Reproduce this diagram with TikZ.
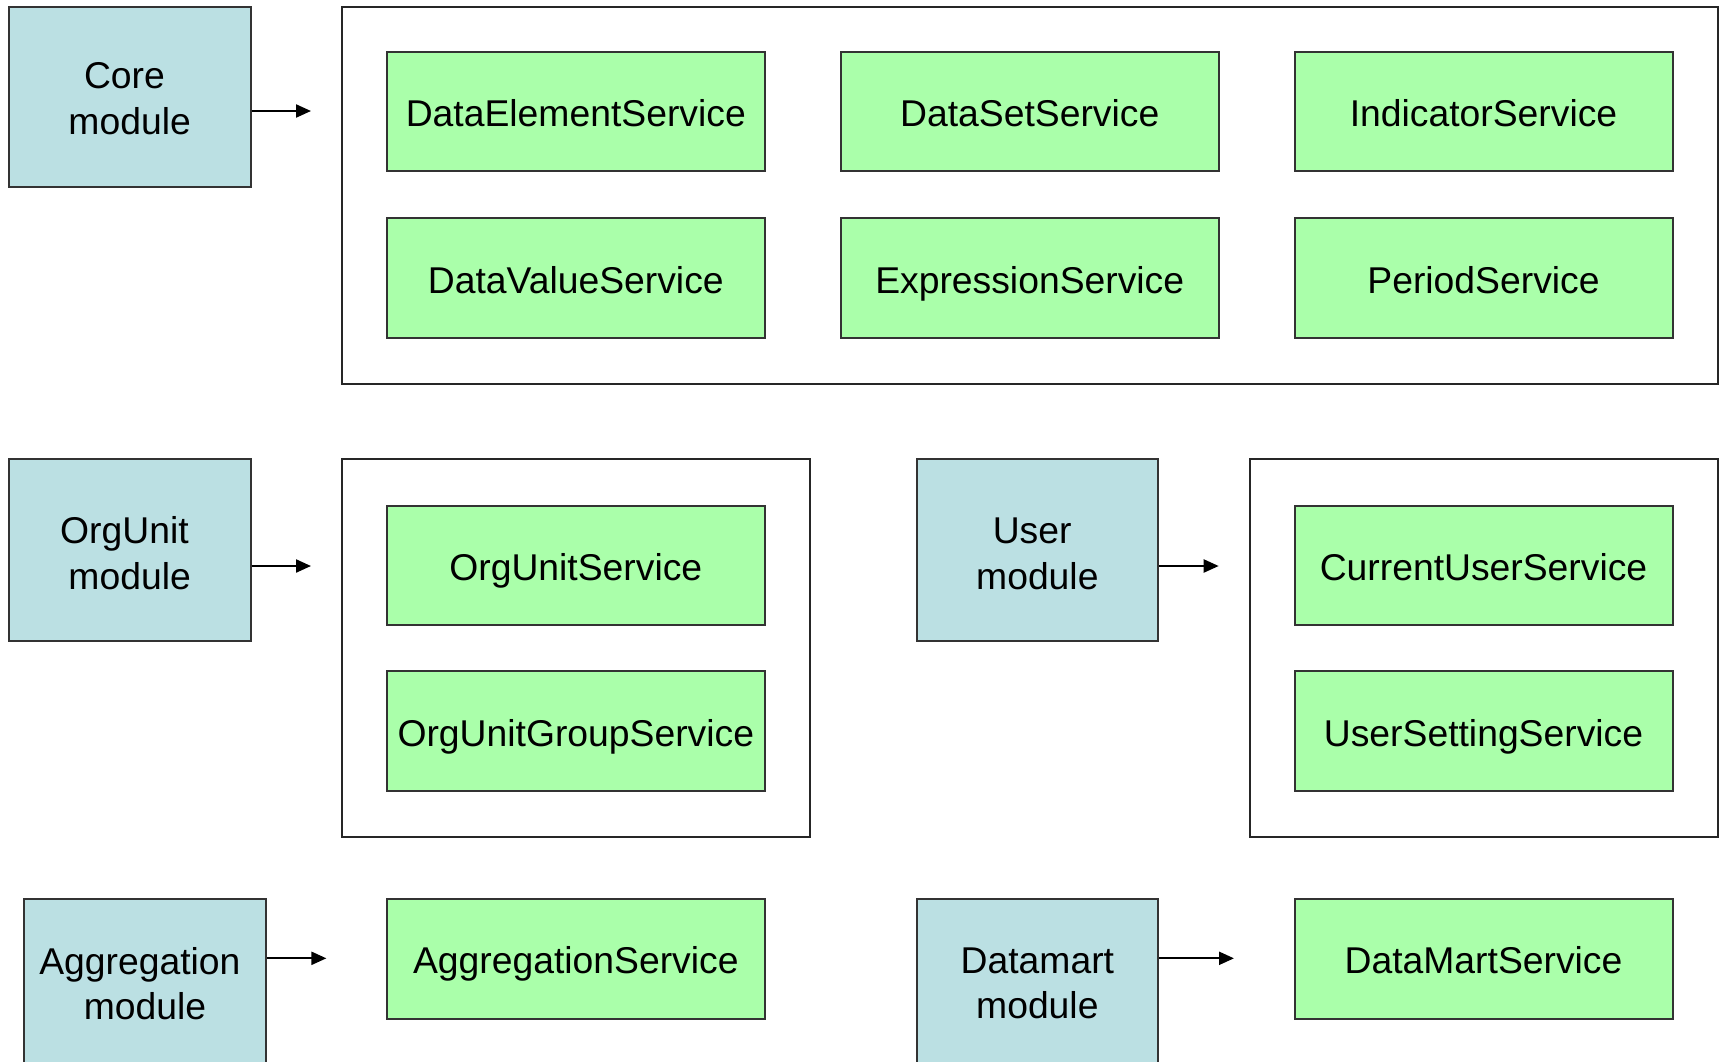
\documentclass[tikz,border=0pt]{standalone}
\usepackage{fontspec}
\setmainfont{Liberation Sans}
\usetikzlibrary{arrows.meta}
\definecolor{modfill}{RGB}{187,224,227}
\definecolor{svcfill}{RGB}{170,255,170}
\newcommand{\trsp}{\kern0.278em}
\newcommand{\lift}[1]{\rule{0pt}{#1}}
\begin{document}
\begin{tikzpicture}[x=1pt,y=-1pt,
  txt/.style={font=\fontsize{37.3}{45.5}\selectfont, align=center, inner sep=0pt},
  modbox/.style={txt, draw=black!80, fill=modfill, line width=2pt, minimum width=241.7pt},
  svcbox/.style={txt, draw=black!80, fill=svcfill, line width=2pt, minimum width=378pt, minimum height=119.8pt, text height=30pt, text depth=0pt},
  container/.style={draw=black!85, line width=2pt, inner sep=0pt},
  conn/.style={line width=2.2pt, -{Triangle[length=15pt,width=13pt]}}]
\useasboundingbox (0,0) rectangle (1723,1061);
\clip (0,0) rectangle (1723,1061);
\fill[white] (0,0) rectangle (1723,1061);

% containers
\node[container, minimum width=1375.8pt, minimum height=376.9pt] (corebox) at (1029.7,195.05) {};
\node[container, minimum width=468.1pt, minimum height=378.1pt] (orgbox) at (575.85,648.35) {};
\node[container, minimum width=468.1pt, minimum height=378.1pt] (userbox) at (1483.55,648.35) {};

% modules
\node[modbox, minimum height=180.2pt] (core) at (129.65,96.7) {\lift{30pt}Core\trsp\\module};
\node[modbox, minimum height=181.4pt] (org) at (129.65,550) {\lift{33pt}OrgUnit\trsp\\module};
\node[modbox, minimum height=181.4pt] (user) at (1037.35,550) {\lift{33pt}User\trsp\\module};
\node[modbox, minimum height=169pt] (agg) at (145.05,983.4) {Aggregation\trsp\\module};
\node[modbox, minimum height=169pt] (dm) at (1037.35,983.4) {Datamart\\module};

% services
\node[svcbox] (des) at (575.8,111.5) {DataElementService};
\node[svcbox] (dss) at (1029.7,111.5) {DataSetService};
\node[svcbox] (ins) at (1483.5,111.5) {IndicatorService};
\node[svcbox] (dvs) at (575.8,278) {DataValueService};
\node[svcbox] (exs) at (1029.7,278) {ExpressionService};
\node[svcbox] (pes) at (1483.5,278) {PeriodService};
\node[svcbox] (ous) at (575.8,565.4) {OrgUnitService};
\node[svcbox] (ougs) at (575.8,731.3) {OrgUnitGroupService};
\node[svcbox] (cus) at (1483.5,565.4) {CurrentUserService};
\node[svcbox] (uss) at (1483.5,731.3) {UserSettingService};
\node[svcbox] (ags) at (575.8,958.8) {AggregationService};
\node[svcbox] (dms) at (1483.5,958.8) {DataMartService};

% arrow ends
\coordinate (a1) at (311,111);
\coordinate (a2) at (311,566);
\coordinate (a3) at (1218.7,566);
\coordinate (a4) at (326.4,958.3);
\coordinate (a5) at (1234,958.3);

\draw[conn] (core.east |- a1) -- (a1);
\draw[conn] (org.east |- a2) -- (a2);
\draw[conn] (user.east |- a3) -- (a3);
\draw[conn] (agg.east |- a4) -- (a4);
\draw[conn] (dm.east |- a5) -- (a5);
\end{tikzpicture}
\end{document}
